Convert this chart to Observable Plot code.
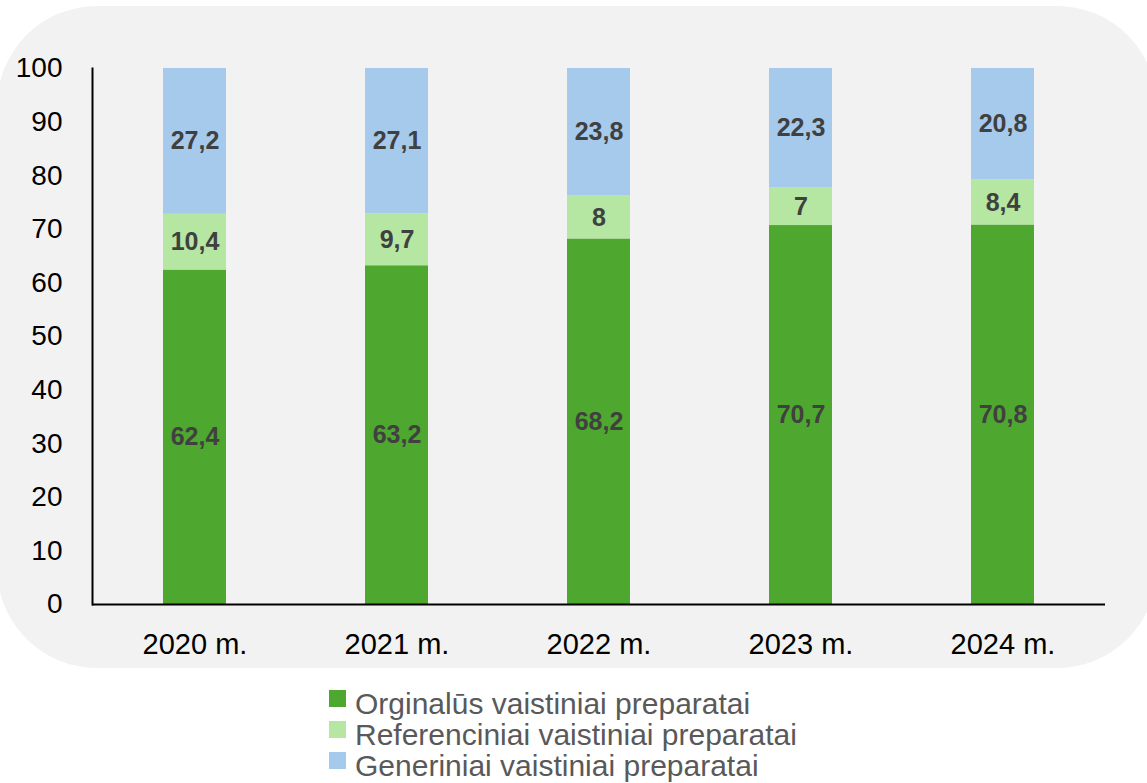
<!DOCTYPE html>
<html>
<head>
<meta charset="utf-8">
<script src="https://cdn.jsdelivr.net/npm/d3@7"></script>
<script src="https://cdn.jsdelivr.net/npm/@observablehq/plot@0.6"></script>
<style>
  html, body { margin: 0; padding: 0; background: #fff; }
  #wrap { position: relative; width: 1147px; height: 783px; overflow: hidden; font-family: "Liberation Sans", Arial, sans-serif; }
  #panel { position: absolute; left: -3px; top: 6px; width: 1160px; height: 662px; background: #f2f2f2; border-radius: 100px; }
  #chart { position: absolute; left: 0; top: 0; }
  #legend { position: absolute; left: 329px; top: 688px; color: #595959; font-size: 30px; line-height: 31px; }
  .row { display: flex; align-items: flex-start; height: 31px; white-space: nowrap; }
  .sw { width: 17px; height: 17px; margin-top: 2px; margin-right: 9px; flex: none; }
</style>
</head>
<body>
<div id="wrap">
  <div id="panel"></div>
  <div id="chart"></div>
  <div id="legend"></div>
</div>
<script>
const years = ["2020 m.", "2021 m.", "2022 m.", "2023 m.", "2024 m."];
const seriesNames = ["Orginalūs vaistiniai preparatai", "Referenciniai vaistiniai preparatai", "Generiniai vaistiniai preparatai"];
const originalValues = [62.4, 63.2, 68.2, 70.7, 70.8];
const referenceValues = [10.4, 9.7, 8, 7, 8.4];
const genericValues = [27.2, 27.1, 23.8, 22.3, 20.8];
const seriesColors = ["#4ea72e", "#b5e6a2", "#a6caec"];
const yTicks = [0, 10, 20, 30, 40, 50, 60, 70, 80, 90, 100];

const allValues = [originalValues, referenceValues, genericValues];
const data = [];
seriesNames.forEach((s, si) => {
  years.forEach((y, yi) => data.push({year: y, series: s, value: allValues[si][yi]}));
});
const fmt = v => String(v).replace(".", ",");

const chart = Plot.plot({
  width: 1147,
  height: 668,
  marginLeft: 92,
  marginRight: 42,
  marginTop: 68,
  marginBottom: 64,
  style: {fontFamily: '"Liberation Sans", Arial, sans-serif', fontSize: "28px", color: "#000", background: "transparent", overflow: "visible"},
  x: {domain: years, paddingInner: 0.69, paddingOuter: 0.345, label: null},
  y: {domain: [0, 100], label: null},
  color: {domain: seriesNames, range: seriesColors},
  marks: [
    Plot.barY(data, {x: "year", y: "value", fill: "series", z: "series", order: seriesNames}),
    Plot.text(data, Plot.stackY({x: "year", y: "value", z: "series", order: seriesNames, text: d => fmt(d.value), fill: "#404040", fontWeight: "bold", fontSize: 25})),
    Plot.axisY({ticks: yTicks, tickSize: 0, tickPadding: 30, fill: "#000", label: null}),
    Plot.axisX({tickSize: 0, tickPadding: 29, fill: "#000", label: null, fontSize: 29}),
    Plot.ruleY([0], {stroke: "#000", strokeWidth: 2}),
    Plot.frame({anchor: "left", stroke: "#000", strokeWidth: 2})
  ]
});
document.getElementById("chart").appendChild(chart);

const legend = document.getElementById("legend");
seriesNames.forEach((s, i) => {
  const row = document.createElement("div");
  row.className = "row";
  const sw = document.createElement("span");
  sw.className = "sw";
  sw.style.background = seriesColors[i];
  const t = document.createElement("span");
  t.textContent = s;
  row.appendChild(sw); row.appendChild(t);
  legend.appendChild(row);
});
</script>
</body>
</html>
